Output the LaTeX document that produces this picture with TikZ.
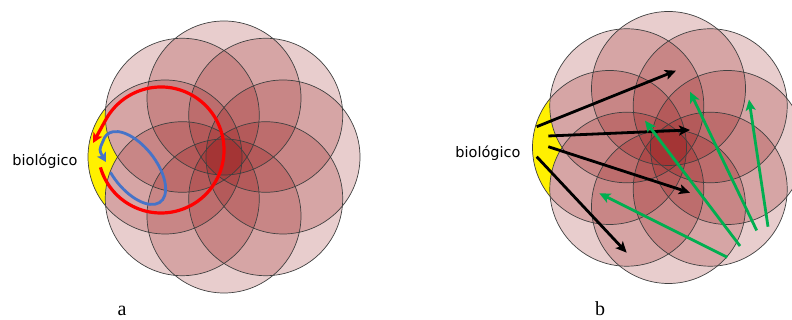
\documentclass[tikz,border=0pt]{standalone}
\usepackage{fontspec}
\newfontfamily\biofont{DejaVu Sans}
\newfontfamily\panelfont{Liberation Serif}
\usetikzlibrary{arrows.meta}
\definecolor{petal}{RGB}{150,20,20}
\definecolor{lune}{RGB}{255,240,0}
\definecolor{redarc}{RGB}{255,0,0}
\definecolor{bluearc}{RGB}{70,115,200}
\definecolor{greenarr}{RGB}{0,175,80}
\tikzset{
  petalfill/.style={fill=petal, fill opacity=0.21},
  petaledge/.style={draw=black!75, line width=0.7pt},
  lunefill/.style={fill=lune},
  blackarrow/.style={draw=black, line width=2.8pt, -{Stealth[length=11pt,width=10pt,inset=2.5pt]}},
  greenarrow/.style={draw=greenarr, line width=2.8pt, -{Stealth[length=11pt,width=10pt,inset=2.5pt]}},
  redarrow/.style={draw=redarc, line width=3.2pt, -{Stealth[length=10pt,width=10pt,inset=2.5pt]}},
  bluearrow/.style={draw=bluearc, line width=2.8pt, -{Stealth[length=9pt,width=10pt,inset=2pt]}},
  biolabel/.style={font=\biofont\fontsize{14.5}{17}\selectfont, inner sep=0pt},
  panellabel/.style={font=\panelfont\fontsize{20}{22}\selectfont, inner sep=0pt, anchor=base}
}
\begin{document}
\begin{tikzpicture}[x=1pt,y=1pt]
\useasboundingbox (0,0) rectangle (792,320);
\clip (0,0) rectangle (792,320);
\fill[white] (0,0) rectangle (792,320);

\foreach \cx/\cy in {224/163, 668.5/172.5} {
  \begin{scope}[shift={(\cx,\cy)}]
    \foreach \a in {0,45,...,315} \fill[petalfill] (\a:59) circle[radius=77];
    \fill[lunefill] (-118.37,49.03) arc[start angle=140.45,end angle=219.55,radius=77]
      arc[start angle=185.45,end angle=147.2,radius=77]
      arc[start angle=212.8,end angle=174.55,radius=77] -- cycle;
    \foreach \a in {0,45,...,315} \draw[petaledge] (\a:59) circle[radius=77];
  \end{scope}
}

% panel a: red loop
\coordinate (rc) at (161,170);
\coordinate (redtip) at (93,177);
\draw[redarrow] ([shift={(196:63)}]rc) arc[start angle=196,end angle=510,radius=63] -- (redtip);

% panel a: blue loop
\begin{scope}[shift={(134,152)},rotate=-52]
  \coordinate (bluetip) at (-22,-18.4);
  \draw[bluearrow] (255:43 and 22) arc[start angle=255,end angle=560,x radius=43,y radius=22]
    .. controls (-35.7,-16.5) .. (bluetip);
\end{scope}

% panel b: black arrows
\coordinate (k1s) at (536.7,193.3); \coordinate (k1e) at (676,249.3);
\coordinate (k2s) at (548.3,184);   \coordinate (k2e) at (690,190);
\coordinate (k3s) at (548.3,173.3); \coordinate (k3e) at (690,127.3);
\coordinate (k4s) at (536.7,163.3); \coordinate (k4e) at (626.7,67.3);
\draw[blackarrow] (k1s) -- (k1e);
\draw[blackarrow] (k2s) -- (k2e);
\draw[blackarrow] (k3s) -- (k3e);
\draw[blackarrow] (k4s) -- (k4e);

% panel b: green arrows
\coordinate (g1s) at (727.3,62.7); \coordinate (g1e) at (599.3,126.7);
\coordinate (g2s) at (740,74);     \coordinate (g2e) at (645,199.3);
\coordinate (g3s) at (756.7,89.5); \coordinate (g3e) at (690,228.3);
\coordinate (g4s) at (768,93.3);   \coordinate (g4e) at (749,220.5);
\draw[greenarrow] (g1s) -- (g1e);
\draw[greenarrow] (g2s) -- (g2e);
\draw[greenarrow] (g3s) -- (g3e);
\draw[greenarrow] (g4s) -- (g4e);

% labels
\node[biolabel] (bioA) at (45,158.3) {biológico};
\node[biolabel] (bioB) at (488,166.7) {biológico};
\node[panellabel] (labA) at (122,4.5) {a};
\node[panellabel] (labB) at (600,4.5) {b};
\end{tikzpicture}
\end{document}
